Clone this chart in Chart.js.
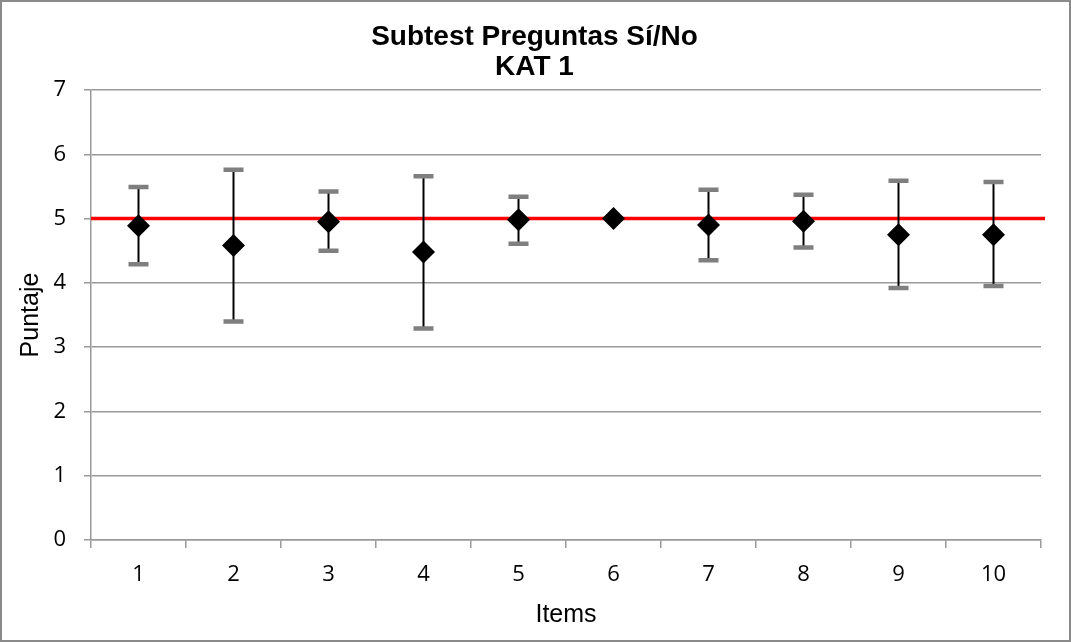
<!DOCTYPE html>
<html>
<head>
<meta charset="utf-8">
<script src="https://cdn.jsdelivr.net/npm/chart.js@4.4.1/dist/chart.umd.min.js"></script>
<style>
    html, body { margin: 0; padding: 0; background: #fff; }
    #wrap {
        width: 1071px;
        height: 642px;
        box-sizing: border-box;
        border: 2px solid #8a8a8a;
        position: relative;
    }
</style>
</head>
<body>
<div id="wrap"><canvas id="katChart"></canvas></div>
<script>
const items = ['1', '2', '3', '4', '5', '6', '7', '8', '9', '10'];
const means = [4.89, 4.58, 4.95, 4.48, 4.98, 5.00, 4.90, 4.96, 4.75, 4.75];
const upper = [5.49, 5.76, 5.42, 5.66, 5.34, 5.00, 5.45, 5.37, 5.59, 5.57];
const lower = [4.29, 3.40, 4.50, 3.29, 4.61, 5.00, 4.35, 4.55, 3.92, 3.95];
const referenceValue = 5;
const yMin = 0;
const yMax = 7;

// red reference line + error bars, drawn under the diamonds
const errorBars = {
    id: 'errorBars',
    beforeDatasetsDraw(chart) {
        const ctx = chart.ctx;
        const x = chart.scales.x;
        const y = chart.scales.y;
        const area = chart.chartArea;

        ctx.save();
        const yRef = y.getPixelForValue(referenceValue);
        ctx.strokeStyle = '#ff0000';
        ctx.lineWidth = 3.5;
        ctx.beginPath();
        ctx.moveTo(area.left, yRef);
        ctx.lineTo(area.right + 4, yRef);
        ctx.stroke();

        means.forEach((m, i) => {
            if (upper[i] === lower[i]) return;
            const px = x.getPixelForValue(i);
            const top = y.getPixelForValue(upper[i]);
            const bottom = y.getPixelForValue(lower[i]);

            ctx.strokeStyle = '#000';
            ctx.lineWidth = 2;
            ctx.beginPath();
            ctx.moveTo(px, top);
            ctx.lineTo(px, bottom);
            ctx.stroke();

            ctx.strokeStyle = '#7f7f7f';
            ctx.lineWidth = 4.5;
            ctx.beginPath();
            ctx.moveTo(px - 10, top);
            ctx.lineTo(px + 10, top);
            ctx.moveTo(px - 10, bottom);
            ctx.lineTo(px + 10, bottom);
            ctx.stroke();
        });
        ctx.restore();
    }
};

const tickFont = { family: 'Open Sans', size: 22 };
const axisTitleFont = { family: 'Liberation Sans', size: 25, lineHeight: 1.2 };
const gridColor = '#9a9a9a';

new Chart(document.getElementById('katChart'), {
    type: 'line',
    data: {
        labels: items,
        datasets: [{
            label: 'Media',
            data: means,
            showLine: false,
            pointStyle: 'rectRot',
            pointRadius: 11.5,
            pointHoverRadius: 11.5,
            pointBackgroundColor: '#000',
            pointBorderColor: '#000',
            pointBorderWidth: 0
        }]
    },
    options: {
        responsive: true,
        maintainAspectRatio: false,
        animation: false,
        // left padding keeps the title centred like the original
        layout: { padding: { top: 0, right: 28, bottom: 0, left: 26 } },
        plugins: {
            legend: { display: false },
            tooltip: { enabled: false },
            title: {
                display: true,
                text: ['Subtest Preguntas Sí/No', 'KAT 1'],
                color: '#000',
                font: { family: 'Liberation Sans', size: 28, weight: 'bold', lineHeight: 30 / 28 },
                padding: { top: 20, bottom: 8 }
            }
        },
        scales: {
            x: {
                offset: true,
                grid: {
                    offset: true,
                    drawOnChartArea: false,
                    tickLength: 8,
                    color: gridColor,
                    lineWidth: 1.5
                },
                border: { color: gridColor, width: 1.5 },
                ticks: { color: '#000', font: tickFont, padding: 14 },
                title: {
                    display: true,
                    text: 'Items',
                    color: '#000',
                    font: axisTitleFont,
                    padding: { top: 0, bottom: 10 }
                },
                afterFit(scale) { scale.height = 100; }
            },
            y: {
                min: yMin,
                max: yMax,
                ticks: { stepSize: 1, color: '#000', font: tickFont, padding: 18 },
                grid: { color: gridColor, lineWidth: 1.5, tickLength: 7 },
                border: { color: gridColor, width: 1.5 },
                title: {
                    display: true,
                    text: 'Puntaje',
                    color: '#000',
                    font: axisTitleFont,
                    padding: { top: -12, bottom: 0 }
                },
                afterFit(scale) { scale.width = 63; }
            }
        }
    },
    plugins: [errorBars]
});
</script>
</body>
</html>
